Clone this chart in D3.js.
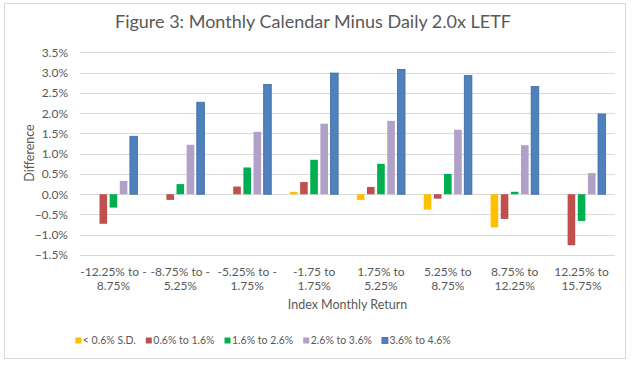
<!DOCTYPE html>
<html>
<head>
<meta charset="utf-8">
<script src="https://cdn.jsdelivr.net/npm/d3@7"></script>
<style>
  body { margin: 0; background: #fff; }
  text { font-family: Lato, "Noto Sans", sans-serif; }
</style>
</head>
<body>
<svg width="633" height="366"></svg>
<script>
// Index return buckets (x axis), two label lines each
var categories = ["-12.25% to -8.75%", "-8.75% to -5.25%", "-5.25% to -1.75%", "-1.75 to 1.75%",
                  "1.75% to 5.25%", "5.25% to 8.75%", "8.75% to 12.25%", "12.25% to 15.75%"];
var labelLines = [["-12.25% to -", "8.75%"], ["-8.75% to -", "5.25%"], ["-5.25% to -", "1.75%"],
                  ["-1.75 to", "1.75%"], ["1.75% to", "5.25%"], ["5.25% to", "8.75%"],
                  ["8.75% to", "12.25%"], ["12.25% to", "15.75%"]];

// volatility series
var seriesNames = ["< 0.6% S.D.", "0.6% to 1.6%", "1.6% to 2.6%", "2.6% to 3.6%", "3.6% to 4.6%"];

// values in percent, one array per series
var sd06  = [0, 0, 0, 0.06, -0.14, -0.38, -0.82, 0];
var sd16  = [-0.73, -0.14, 0.19, 0.30, 0.18, -0.11, -0.61, -1.26];
var sd26  = [-0.33, 0.25, 0.66, 0.85, 0.75, 0.50, 0.06, -0.66];
var sd36  = [0.33, 1.22, 1.54, 1.74, 1.81, 1.59, 1.21, 0.52];
var sd46  = [1.43, 2.27, 2.71, 2.99, 3.08, 2.93, 2.66, 1.98];
var seriesValues = [sd06, sd16, sd26, sd36, sd46];

var yTicks = [-1.5, -1.0, -0.5, 0, 0.5, 1.0, 1.5, 2.0, 2.5, 3.0, 3.5];

var colors = ["#FFC000", "#C0504D", "#00B050", "#B1A0C7", "#4F81BD"];
var strokes = [null, null, null, null, "#3A6AA5"];

var svg = d3.select('svg');

// chart frame
svg.append('rect')
    .attr('x', 4.5).attr('y', 3.5)
    .attr('width', 621).attr('height', 355)
    .attr('fill', '#fff')
    .attr('stroke', '#d9d9d9');

var padding = {t: 52.4, l: 80};
var plotRight = 615, plotBottom = 255;

var x0 = d3.scaleBand()
    .domain(categories)
    .range([padding.l, plotRight])
    .paddingInner(0.28)
    .paddingOuter(0.14);

var x1 = d3.scaleBand()
    .domain(d3.range(seriesNames.length))
    .range([0, x0.bandwidth()])
    .paddingInner(0.25);

var yScale = d3.scaleLinear()
    .domain([-1.5, 3.5])
    .range([plotBottom, padding.t]);

// gridlines
svg.append('g')
    .selectAll('line')
    .data(yTicks)
    .enter().append('line')
    .attr('x1', padding.l).attr('x2', plotRight)
    .attr('y1', function(d) { return Math.round(yScale(d)) + 0.5; })
    .attr('y2', function(d) { return Math.round(yScale(d)) + 0.5; })
    .attr('stroke', '#d9d9d9');

// y tick labels
var yAxis = d3.axisLeft(yScale)
    .tickValues(yTicks)
    .tickSize(0)
    .tickPadding(0)
    .tickFormat(function(d) { return d3.format('.1f')(d) + '%'; });

var gy = svg.append('g')
    .attr('transform', 'translate(' + 68 + ',0)')
    .call(yAxis);
gy.select('.domain').remove();
gy.selectAll('text')
    .attr('fill', '#595959')
    .style('font-family', 'Lato, sans-serif')
    .style('font-size', '12px');

// bars
var groups = svg.append('g')
    .selectAll('g')
    .data(categories)
    .enter().append('g')
    .attr('transform', function(d) { return 'translate(' + x0(d) + ',0)'; });

groups.selectAll('rect')
    .data(function(d, i) {
      return seriesValues.map(function(vals, s) { return {s: s, v: vals[i]}; });
    })
    .enter().append('rect')
    .filter(function(d) { return d.v !== 0; })
    .attr('x', function(d) { return x1(d.s); })
    .attr('y', function(d) { return yScale(Math.max(0, d.v)); })
    .attr('width', x1.bandwidth())
    .attr('height', function(d) { return Math.abs(yScale(d.v) - yScale(0)); })
    .attr('fill', function(d) { return colors[d.s]; })
    .attr('stroke', function(d) { return strokes[d.s] || 'none'; })
    .attr('stroke-width', 0.8);

// x labels
var xl = svg.append('g')
    .selectAll('text')
    .data(categories)
    .enter().append('text')
    .attr('x', function(d) { return x0(d) + x0.bandwidth() / 2; })
    .attr('y', 276)
    .attr('text-anchor', 'middle')
    .attr('fill', '#595959')
    .style('font-size', '12px');
xl.each(function(d, i) {
  var t = d3.select(this);
  labelLines[i].forEach(function(line, k) {
    t.append('tspan')
      .attr('x', x0(d) + x0.bandwidth() / 2)
      .attr('dy', k === 0 ? 0 : 13.5)
      .text(line);
  });
});

// axis titles
svg.append('text')
    .attr('x', (padding.l + plotRight) / 2)
    .attr('y', 309)
    .attr('text-anchor', 'middle')
    .attr('fill', '#595959')
    .style('font-size', '12.5px')
    .text('Index Monthly Return');

svg.append('text')
    .attr('transform', 'translate(34,153) rotate(-90)')
    .attr('text-anchor', 'middle')
    .attr('fill', '#595959')
    .style('font-size', '12.5px')
    .text('Difference');

// title
svg.append('text')
    .attr('x', 313)
    .attr('y', 28)
    .attr('text-anchor', 'middle')
    .attr('fill', '#595959')
    .style('font-size', '18px')
    .text('Figure 3: Monthly Calendar Minus Daily 2.0x LETF');

// legend, laid out from measured text widths
var legend = svg.append('g');
var items = legend.selectAll('g')
    .data(seriesNames)
    .enter().append('g');

items.append('rect')
    .attr('y', -6.5)
    .attr('width', 6).attr('height', 6)
    .attr('fill', function(d, i) { return colors[i]; })
    .attr('stroke', function(d, i) { return strokes[i] || 'none'; })
    .attr('stroke-width', 0.8);

items.append('text')
    .attr('x', 7.5)
    .attr('fill', '#595959')
    .style('font-size', '10.5px')
    .text(function(d) { return d; });

var gap = 10;
var cursor = 0;
items.each(function() {
  var w = 7.5 + this.querySelector('text').getComputedTextLength();
  d3.select(this).attr('transform', 'translate(' + cursor + ',0)');
  cursor += w + gap;
});
var legendW = cursor - gap;
legend.attr('transform', 'translate(' + (263 - legendW / 2) + ',344)');
</script>
</body>
</html>
